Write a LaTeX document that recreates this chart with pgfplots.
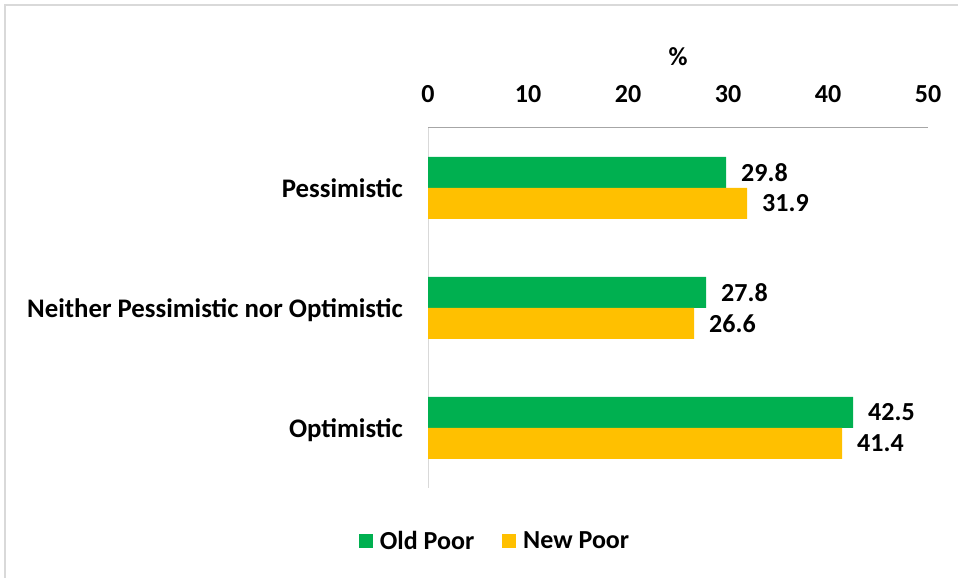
\documentclass[border=0pt]{standalone}
\usepackage{fontspec}
\setmainfont{Carlito}
\usepackage{pgfplots}
\pgfplotsset{compat=1.18}
\definecolor{oldpoor}{HTML}{00B050}
\definecolor{newpoor}{HTML}{FFC000}
\definecolor{framegray}{HTML}{D9D9D9}
\definecolor{axisgray}{HTML}{A6A6A6}
\begin{document}
\begin{tikzpicture}[font=\fontsize{26}{31}\selectfont\bfseries]
\useasboundingbox (0,0) rectangle (958pt,578pt);
\draw[framegray, line width=1.2pt] (5pt,0pt) -- (5pt,573pt) -- (958pt,573pt);
\begin{axis}[
    at={(428pt,90pt)}, anchor=south west,
    scale only axis,
    width=500pt, height=360pt,
    xbar, bar width=31pt,
    xmin=0, xmax=50,
    ymin=-0.5, ymax=2.5,
    enlargelimits=false,
    clip=false,
    axis x line*=top,
    axis y line*=left,
    x axis line style={draw=axisgray, line width=1pt, -},
    y axis line style={draw=framegray, line width=1pt, -},
    major tick length=0pt,
    xtick={0,10,20,30,40,50},
    ytick={0,1,2},
    yticklabels={Optimistic, Neither Pessimistic nor Optimistic, Pessimistic},
    /pgf/number format/assume math mode=true,
    xticklabel style={anchor=base, inner sep=0pt, yshift=25pt},
    yticklabel style={anchor=east, inner sep=0pt, text depth=0pt, xshift=-25pt,
        font=\fontsize{26.8}{31}\selectfont\bfseries},
    xlabel={\%},
    xlabel style={at={(axis description cs:0.5,1)}, anchor=base, inner sep=0pt, yshift=62pt},
    nodes near coords={\pgfmathprintnumber[fixed,fixed zerofill,precision=1,assume math mode=true]{\pgfplotspointmeta}},
    every node near coord/.append style={anchor=west, inner sep=0pt, xshift=15pt, black},
    legend style={at={(0.134,-0.147)}, anchor=center, draw=none, fill=none,
        legend columns=2, /tikz/every even column/.append style={column sep=26pt}},
    legend image code/.code={\fill[#1] (0pt,-7pt) rectangle (14pt,7pt); \path (19pt,0pt);},
]
\addplot[draw=none, fill=oldpoor, bar shift=15.5pt] coordinates {(29.8,2) (27.8,1) (42.5,0)};
\addlegendentry{Old Poor}
\addplot[draw=none, fill=newpoor, bar shift=-15.5pt] coordinates {(31.9,2) (26.6,1) (41.4,0)};
\addlegendentry{New Poor}
\end{axis}
\end{tikzpicture}
\end{document}
